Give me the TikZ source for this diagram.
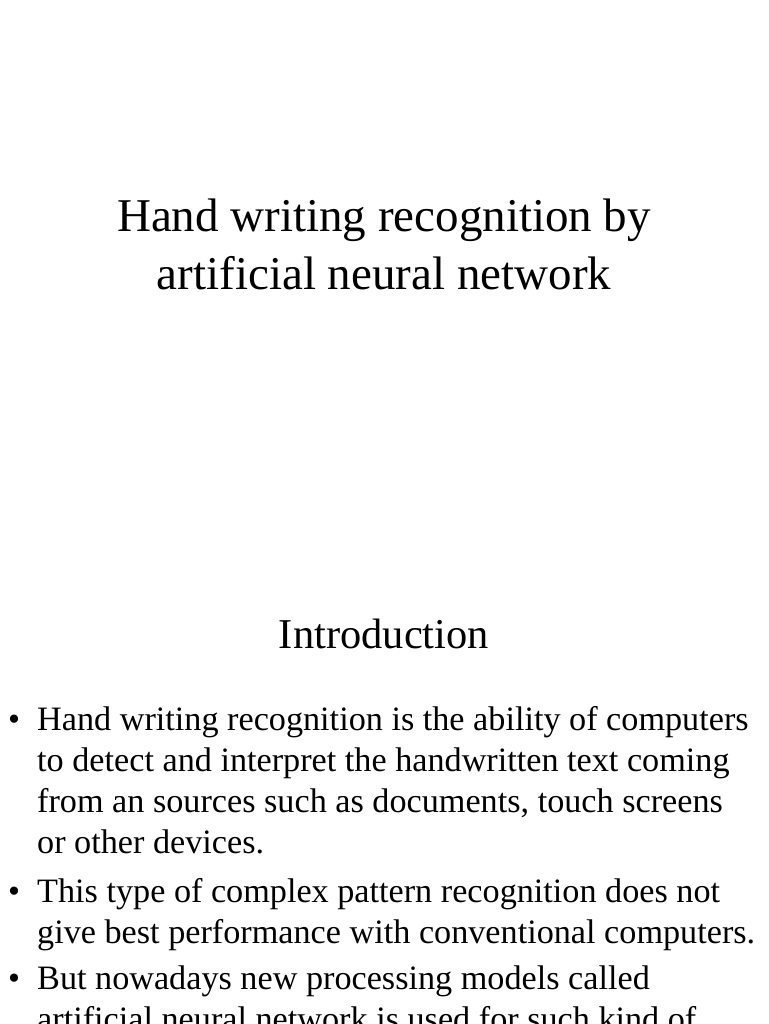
\documentclass[tikz,border=0pt]{standalone}
\usepackage{fontspec}
\setmainfont{Liberation Serif}
\begin{document}
\begin{tikzpicture}[x=1pt,y=1pt,
  title/.style={font=\fontsize{47}{56}\selectfont,anchor=base,inner sep=0},
  head/.style={font=\fontsize{42.5}{50}\selectfont,anchor=base,inner sep=0},
  body/.style={font=\fontsize{34.2}{41}\selectfont,anchor=base west,inner sep=0},
  dot/.style={font=\fontsize{34.2}{41}\selectfont,anchor=base west,inner sep=0}]
\useasboundingbox (0,0) rectangle (768,-1024);
\clip (0,0) rectangle (768,-1024);
\fill[white] (0,0) rectangle (768,-1024);
\node[title] (t1) at (384,-232) {Hand writing recognition by};
\node[title] (t2) at (384,-289) {artificial neural network};
\node[head] (intro) at (384,-648) {Introduction};
\node[dot] (b1) at (8,-730) {•};
\node[body] (l1) at (37,-730) {Hand writing recognition is the ability of computers};
\node[body] (l2) at (37,-771) {to detect and interpret the handwritten text coming};
\node[body] (l3) at (37,-812) {from an sources such as documents, touch screens};
\node[body] (l4) at (37,-853) {or other devices.};
\node[dot] (b2) at (8,-902) {•};
\node[body] (l5) at (37,-902) {This type of complex pattern recognition does not};
\node[body] (l6) at (37,-943) {give best performance with conventional computers.};
\node[dot] (b3) at (8,-989) {•};
\node[body] (l7) at (37,-989) {But nowadays new processing models called};
\node[body] (l8) at (37,-1030) {artificial neural network is used for such kind of};
\end{tikzpicture}
\end{document}
